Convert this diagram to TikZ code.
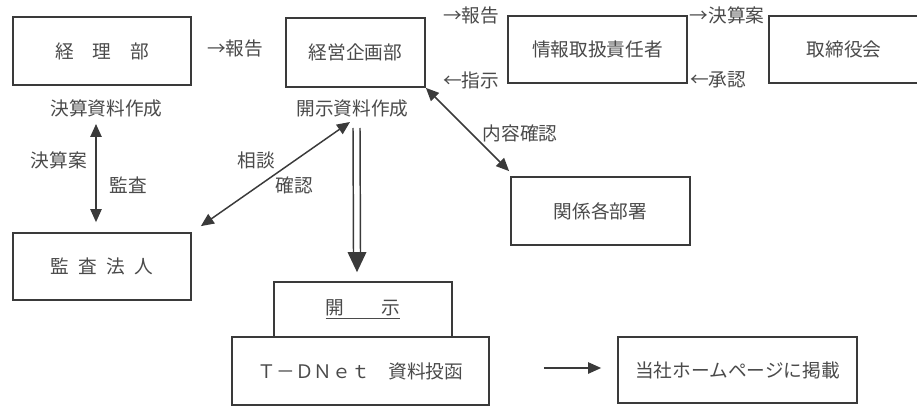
\documentclass[tikz,border=0pt]{standalone}
\usepackage{fontspec}
\setmainfont{Noto Sans CJK JP}
\usetikzlibrary{arrows.meta,calc}
\definecolor{ink}{HTML}{3A3A3A}
\definecolor{txt}{HTML}{4A4A4A}
\tikzset{
  box/.style={draw=ink, line width=1.3pt, minimum width=#1, inner sep=0pt, text=txt, font=\fontsize{14}{16}\selectfont},
  lab/.style={inner sep=0pt, text=txt, font=\fontsize{14}{16}\selectfont},
  tip/.style={-{Triangle[length=9.75pt,width=8.5pt]}},
  both/.style={{Triangle[length=9.75pt,width=8.5pt]}-{Triangle[length=9.75pt,width=8.5pt]}},
  conn/.style={draw=ink, line width=1.1pt},
}
\begin{document}
\begin{tikzpicture}[x=0.75pt,y=-0.75pt]
\clip (0,0) rectangle (917,406);
\fill[white] (0,0) rectangle (917,406);
% boxes
\node[box=133.5pt, minimum height=51pt] (keiri) at (102,51) {経\hspace{1em}理\hspace{1em}部};
\node[box=104.25pt, minimum height=51.75pt] (keiei) at (355.5,52.5) {経営企画部};
\node[box=134.25pt, minimum height=50.25pt] (joho) at (597.5,49.5) {情報取扱責任者};
\node[box=112.5pt, minimum height=50.25pt] (tori) at (844,49.5) {取締役会};
\node[box=133.5pt, minimum height=50.25pt] (kansa) at (102,266.5) {監\hspace{0.5em}査\hspace{0.5em}法\hspace{0.5em}人};
\node[box=134.25pt, minimum height=51pt] (kankei) at (600.5,211) {関係各部署};
\node[box=133.5pt, minimum height=41.25pt] (kaiji) at (363,309.5) {\underline{開\hspace{2em}示}};
\node[box=192.75pt, minimum height=51pt] (tdnet) at (360.5,371) {Ｔ－ＤＮｅｔ　資料投函};
\node[box=179.25pt, minimum height=49.5pt] (hp) at (737.5,370) {当社ホームページに掲載};
% labels
\node[lab] (lab1) at (106.5,108) {決算資料作成};
\node[lab] (lab2) at (352.5,108) {開示資料作成};
\node[lab] (r1) at (235,48) {→報告};
\node[lab] (r2) at (471,15) {→報告};
\node[lab] (s1) at (471,80) {←指示};
\node[lab] (k1) at (727,15) {→決算案};
\node[lab] (a1) at (718,80) {←承認};
\node[lab] (nk) at (520,133) {内容確認};
\node[lab] (ka) at (59,160) {決算案};
\node[lab] (ks) at (128,185) {監査};
\node[lab] (sd) at (256,160) {相談};
\node[lab] (kn) at (294,185) {確認};
% connectors
\draw[conn,both] ([shift={(-10.5,16)}]lab1.center) -- ([shift={(-6,-10)}]kansa.north);
\draw[conn,both] ([shift={(9,-6)}]kansa.north east) -- ([shift={(-2.5,14)}]lab2.center);
\draw[conn,both] (keiei.south east) -- ([shift={(-1,-5)}]kankei.north west);
\draw[conn,tip] ([shift={(54,-3)}]tdnet.east) -- ([shift={(-16,-2)}]hp.west);
% double-line arrow
\coordinate (dtop) at ([shift={(4,20)}]lab2.center);
\coordinate (dtip) at ([shift={(-6,-9)}]kaiji.north);
\draw[draw=ink, line width=1.1pt] ($(dtop)+(-3.5,0)$) -- ($(dtip)+(-3.5,-18)$);
\draw[draw=ink, line width=1.1pt] ($(dtop)+(3.5,0)$) -- ($(dtip)+(3.5,-18)$);
\fill[ink] (dtip) -- ($(dtip)+(-9.5,-20)$) -- ($(dtip)+(9.5,-20)$) -- cycle;
\end{tikzpicture}
\end{document}
